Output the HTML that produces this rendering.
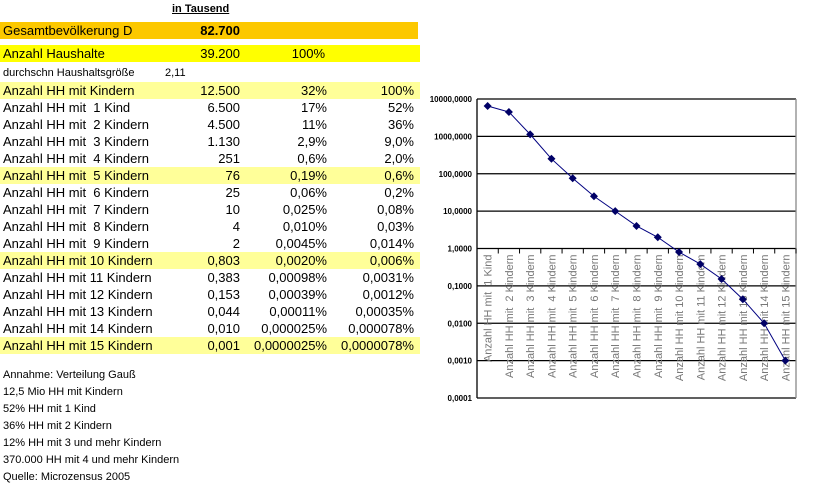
<!DOCTYPE html>
<html><head><meta charset="utf-8"><style>
body{margin:0;width:827px;height:498px;background:#fff;font-family:"Liberation Sans",sans-serif;position:relative;overflow:hidden}
.r{position:absolute;left:0;width:420px;height:17px;font-size:13px;line-height:17px;color:#000}
.r span{position:absolute;top:0}
.l{left:3px}
.a{right:180px;text-align:right}
.b{right:93px;text-align:right}
.c{right:6px;text-align:right}
.p{background:#ffff99}
.n{position:absolute;left:3px;font-size:11px;line-height:14px}
</style></head><body>
<div style="position:absolute;left:172px;top:3px;font-size:11px;font-weight:bold;text-decoration:underline">in Tausend</div>
<div class="r" style="top:22px;width:418px;background:#fcc800"><span class="l">Gesamtbevölkerung D</span><span class="a" style="right:178px;font-weight:bold">82.700</span></div>
<div class="r" style="top:45px;background:#ffff00"><span class="l">Anzahl Haushalte</span><span class="a">39.200</span><span class="b" style="right:95px">100%</span></div>
<div class="r" style="top:65px;font-size:11px"><span class="l">durchschn Haushaltsgröße</span><span style="left:165px">2,11</span></div>
<div id="rows"></div>
<div class="n" style="top:368px">Annahme: Verteilung Gauß</div>
<div class="n" style="top:385px">12,5 Mio HH mit Kindern</div>
<div class="n" style="top:402px">52% HH mit 1 Kind</div>
<div class="n" style="top:419px">36% HH mit 2 Kindern</div>
<div class="n" style="top:436px">12% HH mit 3 und mehr Kindern</div>
<div class="n" style="top:453px">370.000 HH mit 4 und mehr Kindern</div>
<div class="n" style="top:470px">Quelle: Microzensus 2005</div>
<svg id="chart" width="827" height="498" style="position:absolute;left:0;top:0" xmlns="http://www.w3.org/2000/svg"></svg>
<script>
const rowLabels=["Anzahl HH mit Kindern","Anzahl HH mit  1 Kind","Anzahl HH mit  2 Kindern","Anzahl HH mit  3 Kindern","Anzahl HH mit  4 Kindern","Anzahl HH mit  5 Kindern","Anzahl HH mit  6 Kindern","Anzahl HH mit  7 Kindern","Anzahl HH mit  8 Kindern","Anzahl HH mit  9 Kindern","Anzahl HH mit 10 Kindern","Anzahl HH mit 11 Kindern","Anzahl HH mit 12 Kindern","Anzahl HH mit 13 Kindern","Anzahl HH mit 14 Kindern","Anzahl HH mit 15 Kindern"];
const rowValues=["12.500","6.500","4.500","1.130","251","76","25","10","4","2","0,803","0,383","0,153","0,044","0,010","0,001"];
const rowPct1=["32%","17%","11%","2,9%","0,6%","0,19%","0,06%","0,025%","0,010%","0,0045%","0,0020%","0,00098%","0,00039%","0,00011%","0,000025%","0,0000025%"];
const rowPct2=["100%","52%","36%","9,0%","2,0%","0,6%","0,2%","0,08%","0,03%","0,014%","0,006%","0,0031%","0,0012%","0,00035%","0,000078%","0,0000078%"];
const categories=["Anzahl HH mit  1 Kind","Anzahl HH mit  2 Kindern","Anzahl HH mit  3 Kindern","Anzahl HH mit  4 Kindern","Anzahl HH mit  5 Kindern","Anzahl HH mit  6 Kindern","Anzahl HH mit  7 Kindern","Anzahl HH mit  8 Kindern","Anzahl HH mit  9 Kindern","Anzahl HH mit 10 Kindern","Anzahl HH mit 11 Kindern","Anzahl HH mit 12 Kindern","Anzahl HH mit 13 Kindern","Anzahl HH mit 14 Kindern","Anzahl HH mit 15 Kindern"];
const seriesValues=[6500,4500,1130,251,76,25,10,4,2,0.803,0.383,0.153,0.044,0.010,0.001];
const tickValues=[10000,1000,100,10,1,0.1,0.01,0.001,0.0001];
const tickLabels=["10000,0000","1000,0000","100,0000","10,0000","1,0000","0,1000","0,0100","0,0010","0,0001"];

const rows=document.getElementById('rows');
rowLabels.forEach((t,i)=>{
  const d=document.createElement('div');
  d.className='r'+([0,5,10,15].includes(i)?' p':'');
  d.style.top=(82+i*17)+'px';
  
  
  d.innerHTML='<span class="l">'+t.replace(/  /g,'&nbsp; ')+'</span><span class="a">'+rowValues[i]+'</span><span class="b">'+rowPct1[i]+'</span><span class="c">'+rowPct2[i]+'</span>';
  rows.appendChild(d);
});

const NS='http://www.w3.org/2000/svg';
const svg=document.getElementById('chart');
const X0=477,X1=796,YT=99,YB=398;
const lmax=4,lmin=-4;
const y=v=>YT+(lmax-Math.log10(v))/(lmax-lmin)*(YB-YT);
const bw=(X1-X0)/categories.length;
const x=i=>X0+bw*(i+0.5);
function el(tag,attrs){const e=document.createElementNS(NS,tag);for(const k in attrs)e.setAttribute(k,attrs[k]);svg.appendChild(e);return e;}
tickValues.forEach((v,i)=>{
  const g=el('line',{x1:X0,x2:X1,y1:y(v),y2:y(v),stroke:'#000','stroke-width':1.3});
  
  
  const t=el('text',{x:X0-5,y:y(v)+3,'text-anchor':'end','font-size':'8','font-weight':'bold','font-family':'Liberation Sans, sans-serif'});
  t.textContent=tickLabels[i];
  
  
});
const b=el('line',{x1:X1,x2:X1,y1:YT,y2:YB,stroke:'#888','stroke-width':1.3});


const ax=el('line',{x1:X0,x2:X0,y1:YT,y2:YB,stroke:'#000','stroke-width':1.3});


const y1=y(1);
for(let i=0;i<=categories.length;i++){
  const tk=el('line',{x1:X0+bw*i,x2:X0+bw*i,y1:y1,y2:y1+5,stroke:'#000'});
  
  
}
categories.forEach((c,i)=>{
  const t=el('text',{x:0,y:0,transform:`translate(${x(i)+4},${y1+6}) rotate(-90)`,'text-anchor':'end','font-size':'11','fill':'#777','font-family':'Liberation Sans, sans-serif'});
  t.textContent=c.replace(/  /g,' \u00a0');
  
  
});
const line=el('polyline',{points:seriesValues.map((v,i)=>x(i)+','+y(v)).join(' '),fill:'none',stroke:'#000080','stroke-width':1});


seriesValues.forEach((v,i)=>{
  const cx=x(i),cy=y(v);
  const m=el('polygon',{points:`${cx},${cy-4} ${cx+4},${cy} ${cx},${cy+4} ${cx-4},${cy}`,fill:'#000066'});
  
  
});
</script>
</body></html>
